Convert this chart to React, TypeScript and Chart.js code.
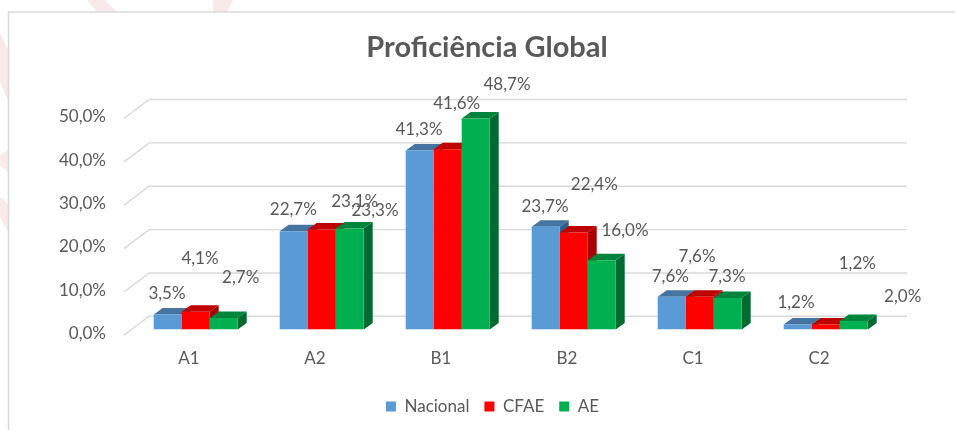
import React, { useEffect, useRef } from "react";
import { Chart, registerables } from "chart.js";

Chart.register(...registerables);

const categories = ["A1", "A2", "B1", "B2", "C1", "C2"];
const nacional = [3.5, 22.7, 41.3, 23.7, 7.6, 1.2];
const cfae = [4.1, 23.1, 41.6, 22.4, 7.6, 1.2];
const ae = [2.7, 23.3, 48.7, 16.0, 7.3, 2.0];
const yTicks = [0, 10, 20, 30, 40, 50];

const FONT = "Lato, 'Open Sans', sans-serif";
const TEXT = "#595959";
const GRID = "#D9D9D9";
const DEPTH = { dx: 9, dy: 6.5 };

const seriesStyle = [
  { label: "Nacional", data: nacional, front: "#5B9BD5", top: "#44749F", side: "#2F5F8B" },
  { label: "CFAE", data: cfae, front: "#FF0000", top: "#BF0000", side: "#A80000" },
  { label: "AE", data: ae, front: "#00B050", top: "#00843C", side: "#006B30" },
];

// Excel's hand-dragged label offsets from the top-centre of each bar, [dx, dy] by series then category
const labelNudge = [
  [[-0.7, -21], [-0.4, -21.2], [-0.7, -21], [-0.7, -20.5], [-1.4, -19.8], [-1.7, -21.4]],
  [[4.3, -53.3], [33, -27.7], [9, -45.7], [20.6, -47.8], [-2.7, -39.8], [31.6, -60.4]],
  [[17, -40], [25.3, -17.9], [31.3, -34.1], [23.3, -29.3], [-0.7, -21.8], [49, -24.7]],
];

const fmt = (v: number) => v.toFixed(1).replace(".", ",") + "%";

const pagePlugin = {
  id: "page",
  beforeDraw(chart: any) {
    const { ctx, width, height } = chart;
    ctx.save();
    ctx.fillStyle = "#fff";
    ctx.fillRect(0, 0, width, height);
    ctx.fillStyle = "#F9EAEA";
    const shapes = [
      [[87, 0], [105, 0], [117, 12], [97, 12]],
      [[213, 0], [233, 0], [227, 12], [213, 12]],
      [[0, 33], [8, 50], [8, 100], [0, 82]],
      [[0, 155], [8, 150], [8, 172], [0, 165]],
      [[0, 197], [8, 204], [8, 232], [0, 217]],
    ];
    for (const s of shapes) {
      ctx.beginPath();
      s.forEach(([x, y], i) => (i ? ctx.lineTo(x, y) : ctx.moveTo(x, y)));
      ctx.closePath();
      ctx.fill();
    }
    ctx.strokeStyle = GRID;
    ctx.lineWidth = 1.5;
    ctx.beginPath();
    ctx.moveTo(8.5, height);
    ctx.lineTo(8.5, 12);
    ctx.lineTo(width, 12);
    ctx.stroke();
    ctx.restore();
  },
};

const depthPlugin = {
  id: "depth",
  afterLayout(chart: any) {
    chart.titleBlock.left += 42.65;
    chart.titleBlock.right += 42.65;
    chart.legend.left += 48.15;
    chart.legend.right += 48.15;
  },
  beforeDatasetsDraw(chart: any) {
    const { ctx, chartArea, scales } = chart;
    const y = scales.y;
    ctx.save();
    // walls: back-plane gridlines with their diagonal returns
    ctx.strokeStyle = GRID;
    ctx.lineWidth = 1.4;
    for (const v of yTicks) {
      const p = y.getPixelForValue(v);
      ctx.beginPath();
      ctx.moveTo(chartArea.left - 8.7, p + 5.7);
      ctx.lineTo(chartArea.left + 16.3, p - 13.3);
      ctx.lineTo(chartArea.right + 18.3, p - 13.3);
      ctx.stroke();
    }
    // top and side faces, painted group by group behind the library's front faces
    const { dx, dy } = DEPTH;
    categories.forEach((_, c) => {
      seriesStyle.forEach((s, d) => {
        const bar = chart.getDatasetMeta(d).data[c] as any;
        const hw = bar.width / 2;
        const l = bar.x - hw;
        const r = bar.x + hw;
        const t = bar.y;
        const b = bar.base;
        ctx.fillStyle = s.side;
        ctx.beginPath();
        ctx.moveTo(r, t);
        ctx.lineTo(r + dx, t - dy);
        ctx.lineTo(r + dx, b - dy);
        ctx.lineTo(r, b);
        ctx.closePath();
        ctx.fill();
        ctx.fillStyle = s.top;
        ctx.beginPath();
        ctx.moveTo(l, t);
        ctx.lineTo(l + dx, t - dy);
        ctx.lineTo(r + dx, t - dy);
        ctx.lineTo(r, t);
        ctx.closePath();
        ctx.fill();
      });
    });
    ctx.restore();
  },
  afterDatasetsDraw(chart: any) {
    const { ctx } = chart;
    ctx.save();
    ctx.font = `17px ${FONT}`;
    ctx.fillStyle = TEXT;
    ctx.textAlign = "center";
    ctx.textBaseline = "middle";
    seriesStyle.forEach((s, d) => {
      s.data.forEach((v, c) => {
        const bar = chart.getDatasetMeta(d).data[c] as any;
        const [nx, ny] = labelNudge[d][c];
        ctx.fillText(fmt(v), bar.x + nx, bar.y + ny);
      });
    });
    ctx.restore();
  },
};

export default function App() {
  const ref = useRef<HTMLCanvasElement>(null);
  useEffect(() => {
    document.body.style.margin = "0";
    const chart = new Chart(ref.current!, {
      type: "bar",
      data: {
        labels: categories,
        datasets: seriesStyle.map((s) => ({
          label: s.label,
          data: s.data,
          backgroundColor: s.front,
          borderWidth: 0,
          categoryPercentage: 2 / 3,
          barPercentage: 1,
        })),
      },
      options: {
        responsive: false,
        animation: false,
        layout: { padding: { left: 0, right: 66.3, top: 0, bottom: 5 } },
        plugins: {
          title: {
            display: true,
            text: "Proficiência Global",
            color: TEXT,
            font: { family: FONT, size: 29, weight: "bold", lineHeight: 1.2 },
            padding: { top: 30.6, bottom: 47.4 },
          },
          legend: {
            position: "bottom",
            labels: {
              boxWidth: 10,
              boxHeight: 10,
              color: TEXT,
              font: { family: FONT, size: 17 },
              padding: 15,
            },
          },
          tooltip: { enabled: false },
        },
        scales: {
          x: {
            grid: { display: false, drawTicks: false },
            border: { display: false },
            ticks: { color: TEXT, font: { family: FONT, size: 17 }, padding: 18.4, labelOffset: -6.7, maxRotation: 0 },
            afterFit: (s: any) => {
              s.height = 53.4;
            },
          },
          y: {
            min: 0,
            max: 50,
            grid: { display: false, drawTicks: false },
            border: { display: false },
            ticks: {
              stepSize: 10,
              color: TEXT,
              font: { family: FONT, size: 17 },
              padding: 26.7,
              labelOffset: 4,
              callback: (v: any) => fmt(Number(v)),
            },
            afterFit: (s: any) => {
              s.width = 132.7;
            },
          },
        },
      },
      plugins: [pagePlugin, depthPlugin],
    } as any);
    return () => chart.destroy();
  }, []);
  return <canvas ref={ref} width={955} height={430} style={{ display: "block", filter: "blur(0.4px)" }} />;
}
